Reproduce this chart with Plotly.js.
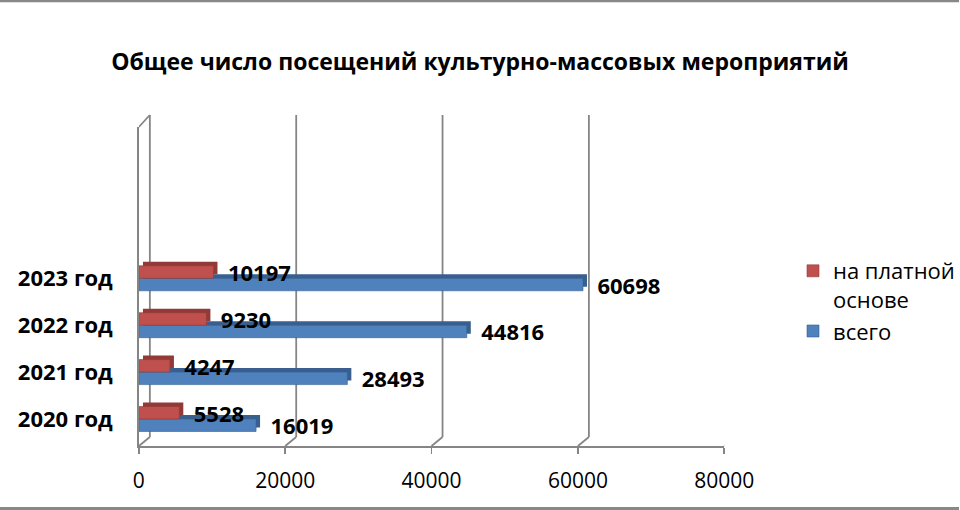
<!DOCTYPE html>
<html>
<head>
<meta charset="utf-8">
<script src="https://cdn.plot.ly/plotly-3.0.1.min.js"></script>
<style>html,body{margin:0;padding:0;background:#fff}</style>
</head>
<body>
<div id="chart" style="width:960px;height:510px"></div>
<script>
var YEARS = ['2020 год', '2021 год', '2022 год', '2023 год'];
var TOTAL = [16019, 28493, 44816, 60698];
var PAID = [5528, 4247, 9230, 10197];
var TOTAL_NAME = 'всего';
var PAID_NAME = 'на платной<br>основе';
var X_TICKS = [0, 20000, 40000, 60000, 80000];
var TITLE = 'Общее число посещений культурно-массовых мероприятий';

var W = 960, H = 510;
// front face of the 3d box, px
var LEFT = 139, RIGHT = 725, BOTTOM = 446, TOP = 127;
var DEPTH = 4;                  // bar depth
var WALL_DX = 11, WALL_DY = 9;  // back wall offset
var Y_RANGE = [-0.576, 6.226];

var RED = '#C0504D', RED_DARK = '#923A37';
var BLUE = '#4F81BD', BLUE_DARK = '#385F8F';
var GRID = '#858585';
var FONT = '"Open Sans", "Noto Sans", sans-serif';

function label(v) { return '\u00a0\u00a0' + v; }

var frontX = [LEFT / W, RIGHT / W];
var frontY = [(H - BOTTOM) / H, (H - TOP) / H];
var backX = [(LEFT + DEPTH) / W, (RIGHT + DEPTH) / W];
var backY = [(H - BOTTOM + DEPTH) / H, (H - TOP + DEPTH) / H];

// depth (side/top faces) drawn first, then the front faces
var traces = [
    {type: 'bar', orientation: 'h', y: YEARS, x: TOTAL, xaxis: 'x', yaxis: 'y',
     marker: {color: BLUE_DARK}, showlegend: false, hoverinfo: 'skip'},
    {type: 'bar', orientation: 'h', y: YEARS, x: PAID, xaxis: 'x', yaxis: 'y',
     marker: {color: RED_DARK}, showlegend: false, hoverinfo: 'skip'},
    {type: 'bar', orientation: 'h', name: TOTAL_NAME, y: YEARS, x: TOTAL, xaxis: 'x2', yaxis: 'y2',
     marker: {color: BLUE, line: {color: BLUE_DARK, width: 0.6}},
     text: TOTAL.map(label), textposition: 'outside', constraintext: 'none', cliponaxis: false,
     textfont: {family: FONT, size: 22, weight: 'bold', color: '#000'}},
    {type: 'bar', orientation: 'h', name: PAID_NAME, y: YEARS, x: PAID, xaxis: 'x2', yaxis: 'y2',
     marker: {color: RED, line: {color: RED_DARK, width: 0.6}},
     text: PAID.map(label), textposition: 'outside', constraintext: 'none', cliponaxis: false,
     textfont: {family: FONT, size: 22, weight: 'bold', color: '#000'}}
];

var shapes = [];
var wallH = BOTTOM - TOP;
var gridLine = {color: GRID, width: 1.8};
X_TICKS.forEach(function (t) {
    // back wall gridline
    shapes.push({type: 'line', xref: 'x2', yref: 'paper', layer: 'below',
        xsizemode: 'pixel', xanchor: t, x0: WALL_DX, x1: WALL_DX,
        ysizemode: 'pixel', yanchor: frontY[0], y0: WALL_DY, y1: wallH + 12,
        line: gridLine});
    // floor diagonal
    shapes.push({type: 'line', xref: 'x2', yref: 'paper', layer: 'below',
        xsizemode: 'pixel', xanchor: t, x0: 0, x1: WALL_DX,
        ysizemode: 'pixel', yanchor: frontY[0], y0: 0, y1: WALL_DY,
        line: gridLine});
});
// top of the left wall
shapes.push({type: 'line', xref: 'x2', yref: 'paper', layer: 'below',
    xsizemode: 'pixel', xanchor: 0, x0: 0, x1: WALL_DX,
    ysizemode: 'pixel', yanchor: frontY[0], y0: wallH, y1: wallH + 12,
    line: gridLine});
// outer frame, top and bottom edges
shapes.push({type: 'line', xref: 'paper', yref: 'paper', x0: 0, x1: 1,
    y0: 1 - 1 / H, y1: 1 - 1 / H, line: {color: '#888', width: 2.5}});
shapes.push({type: 'line', xref: 'paper', yref: 'paper', x0: 0, x1: 1,
    y0: 1.5 / H, y1: 1.5 / H, line: {color: '#888', width: 3}});

var layout = {
    width: W,
    height: H,
    margin: {l: 0, r: 0, t: 0, b: 0},
    paper_bgcolor: '#fff',
    plot_bgcolor: 'rgba(0,0,0,0)',
    font: {family: FONT, color: '#000'},
    barmode: 'group',
    bargap: 0.467,
    bargroupgap: 0,
    title: {text: '<b>' + TITLE + '</b>', x: 0.5, xanchor: 'center',
            y: 1 - 62 / H, yanchor: 'middle', font: {family: FONT, size: 23, color: '#000'}},
    xaxis: {domain: backX, anchor: 'y', range: [0, 80000], visible: false, fixedrange: true},
    yaxis: {domain: backY, anchor: 'x', type: 'category', range: Y_RANGE, visible: false, fixedrange: true},
    xaxis2: {domain: frontX, anchor: 'y2', range: [0, 80000], tickvals: X_TICKS, tickformat: 'd',
             showgrid: false, zeroline: false, showline: true, linecolor: GRID, linewidth: 1.8,
             ticks: 'outside', ticklen: 6, tickcolor: GRID, tickwidth: 1.8,
             ticklabelstandoff: 9, tickfont: {family: FONT, size: 21, color: '#000'}},
    yaxis2: {domain: frontY, anchor: 'x2', type: 'category', range: Y_RANGE,
             showgrid: false, zeroline: false, showline: true, linecolor: GRID, linewidth: 1.8,
             ticks: '', ticklabelstandoff: 20,
             tickfont: {family: FONT, size: 22, weight: 'bold', color: '#000'}},
    legend: {x: 0.827, xanchor: 'left', y: 1 - 250 / H, yanchor: 'top', traceorder: 'reversed',
             valign: 'top', bgcolor: 'rgba(0,0,0,0)', font: {family: FONT, size: 22, color: '#000'}},
    shapes: shapes
};

Plotly.newPlot('chart', traces, layout, {staticPlot: true});
</script>
</body>
</html>
